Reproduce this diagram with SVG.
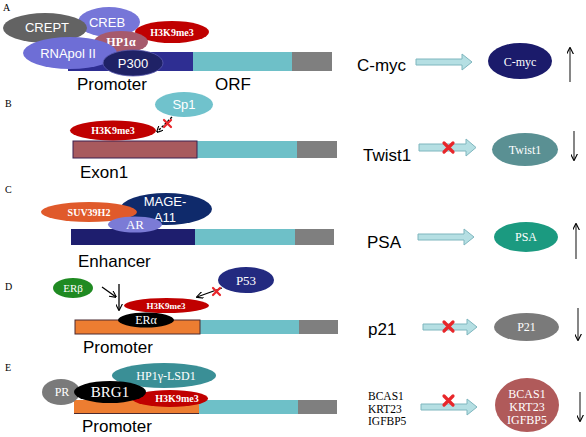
<svg xmlns="http://www.w3.org/2000/svg" width="586" height="437" viewBox="0 0 586 437">
<defs>
<style>
.lbl{font-family:"Liberation Serif",serif;font-size:10px;fill:#000}
.sans{font-family:"Liberation Sans",Arial,sans-serif;font-size:17px;fill:#000}
.ws{font-family:"Liberation Sans",Arial,sans-serif;font-size:13px;fill:#fff;text-anchor:middle}
.wr{font-family:"Liberation Serif",serif;font-size:12px;fill:#fff;text-anchor:middle}
.wb{font-family:"Liberation Serif",serif;font-size:10px;font-weight:bold;fill:#fff;text-anchor:middle}
.orf{fill:#6ec0c8}
.end{fill:#7f7f7f}
.barr{fill:#b5dfe3;stroke:#7fb6be;stroke-width:1}
.xm{stroke:#e8262a;stroke-width:3.2;stroke-linecap:round}
.ln{stroke:#000;stroke-width:1.3;fill:none}
.ud{stroke:#444;stroke-width:1.3;fill:none}
</style>
<marker id="ah" viewBox="0 0 10 10" refX="9" refY="5" markerWidth="7" markerHeight="7" orient="auto-start-reverse" markerUnits="userSpaceOnUse">
<path d="M0,0 L10,5 L0,10" fill="none" stroke="#000" stroke-width="1.6"/>
</marker>
</defs>
<rect width="586" height="437" fill="#fff"/>

<!-- panel letters -->
<text class="lbl" x="3" y="11">A</text>
<text class="lbl" x="5" y="107">B</text>
<text class="lbl" x="5" y="193">C</text>
<text class="lbl" x="5" y="290">D</text>
<text class="lbl" x="5" y="371">E</text>

<!-- gene bars -->
<g id="barA">
<rect x="68" y="52" width="125" height="19" fill="#2e2e92"/>
<rect class="orf" x="193" y="52" width="99" height="19"/>
<rect class="end" x="292" y="52" width="40" height="19"/>
</g>
<g id="barB">
<rect class="orf" x="197" y="141" width="100" height="17"/>
<rect class="end" x="297" y="141" width="40" height="17"/>
<rect x="73" y="141" width="124" height="17" fill="#a85a5e" stroke="#3a2050" stroke-width="1"/>
</g>
<g id="barC">
<rect x="71" y="229" width="124" height="16" fill="#1e1e6e"/>
<rect class="orf" x="195" y="229" width="100" height="16"/>
<rect class="end" x="295" y="229" width="39" height="16"/>
</g>
<g id="barD">
<rect class="orf" x="200" y="320" width="99" height="14"/>
<rect class="end" x="299" y="320" width="39" height="14"/>
<rect x="75" y="320" width="125" height="14" fill="#ed7d31" stroke="#4a2a30" stroke-width="1"/>
</g>
<g id="barE">
<rect class="orf" x="199" y="400" width="99" height="14"/>
<rect class="end" x="298" y="400" width="39" height="14"/>
<rect x="74" y="400" width="125" height="14" fill="#ed7d31"/>
<line x1="74" y1="413.5" x2="199" y2="413.5" stroke="#4a2a30" stroke-width="1"/>
</g>

<!-- region labels -->
<text class="sans" x="77" y="90">Promoter</text>
<text class="sans" x="215" y="90">ORF</text>
<text class="sans" x="80" y="178">Exon1</text>
<text class="sans" x="78" y="267">Enhancer</text>
<text class="sans" x="83" y="353">Promoter</text>
<text class="sans" x="82" y="432">Promoter</text>

<!-- Panel A proteins -->
<g id="CREB"><ellipse cx="109" cy="22" rx="31" ry="15" fill="#7676d8"/><text class="ws" x="107" y="27">CREB</text></g>
<g id="CREPT"><ellipse cx="45" cy="28" rx="42" ry="15" fill="#636363"/><text class="ws" x="47" y="32">CREPT</text></g>
<g id="H3K9me3A"><ellipse cx="172" cy="32" rx="37" ry="11" fill="#c00000"/><text class="wb" x="172" y="36">H3K9me3</text></g>
<g id="HP1a"><ellipse cx="121" cy="42" rx="27" ry="11" fill="#a65a6c"/><text class="wb" x="121" y="46" style="font-size:12px">HP1α</text></g>
<g id="RNApol"><ellipse cx="70" cy="53" rx="47" ry="16" fill="#6e6ed6"/><text class="ws" x="68" y="58">RNApol II</text></g>
<g id="P300"><ellipse cx="133" cy="63" rx="30" ry="13" fill="#1f2266" stroke="#5a5ab0" stroke-width="0.8"/><text class="ws" x="133" y="68">P300</text></g>

<!-- Panel B proteins -->
<g id="H3K9me3B"><ellipse cx="113" cy="130.5" rx="43" ry="10" fill="#c00000"/><text class="wb" x="113" y="134">H3K9me3</text></g>
<g id="Sp1"><ellipse cx="184" cy="104.5" rx="29" ry="12.5" fill="#70c2cc"/><text class="ws" x="184" y="109">Sp1</text></g>

<!-- Panel C proteins -->
<g id="MAGE"><ellipse cx="166" cy="209" rx="46" ry="16" fill="#0f2a6b"/><text class="ws" x="165" y="206">MAGE-</text><text class="ws" x="165" y="222">A11</text></g>
<g id="SUV39H2"><ellipse cx="89" cy="212" rx="48" ry="10" fill="#e05a2b"/><text class="wb" x="89" y="216">SUV39H2</text></g>
<g id="AR"><ellipse cx="135" cy="224.5" rx="27" ry="8" fill="#7b7bd6"/><text class="wr" x="135" y="229" style="font-size:13px">AR</text></g>

<!-- Panel D proteins -->
<g id="ERb"><ellipse cx="73" cy="288" rx="20" ry="10" fill="#1f8a22"/><text class="wr" x="73" y="292" style="font-size:11px">ERβ</text></g>
<g id="H3K9me3D"><ellipse cx="166.5" cy="305.5" rx="42.5" ry="7.5" fill="#c00000"/><text class="wb" x="166" y="309" style="font-size:9px">H3K9me3</text></g>
<g id="ERa"><ellipse cx="146" cy="320" rx="28" ry="7.5" fill="#000"/><text class="wr" x="146" y="324">ERα</text></g>
<g id="P53"><ellipse cx="246" cy="280" rx="28" ry="13" fill="#232a80"/><text class="wr" x="246" y="285" style="font-size:13px">P53</text></g>

<!-- Panel E proteins -->
<g id="HP1g"><ellipse cx="164" cy="375.5" rx="52" ry="12.5" fill="#3a8f96"/><text class="wr" x="166" y="380">HP1γ-LSD1</text></g>
<g id="H3K9me3E"><ellipse cx="170" cy="398.5" rx="38" ry="8.5" fill="#c00000"/><text class="wb" x="177" y="402">H3K9me3</text></g>
<g id="PR"><ellipse cx="61" cy="392" rx="19" ry="13" fill="#7a7a7a"/><text class="wr" x="62" y="396">PR</text></g>
<g id="BRG1"><ellipse cx="110" cy="392" rx="36" ry="11" fill="#000"/><text class="wr" x="110" y="397" style="font-size:15px">BRG1</text></g>

<!-- connectors -->
<g id="connectors">
<line class="ln" x1="172" y1="117" x2="157" y2="132" stroke-dasharray="2.5,1.5" marker-end="url(#ah)"/>
<line class="ln" x1="102" y1="287" x2="116" y2="297" marker-end="url(#ah)"/>
<line class="ln" x1="119" y1="284" x2="119" y2="310" marker-end="url(#ah)"/>
<line class="ln" x1="222" y1="288" x2="197" y2="297" marker-end="url(#ah)"/>
<!-- block arrows -->
<path class="barr" d="M416,59 H462 V54 L472,62 L462,70 V65 H416 Z"/>
<path class="barr" d="M419,144 H466 V139 L476,147.5 L466,156 V151 H419 Z"/>
<path class="barr" d="M418,234 H464 V229 L474,237 L464,245 V240 H418 Z"/>
<path class="barr" d="M423,324 H467 V319 L477,327 L467,335 V330 H423 Z"/>
<path class="barr" d="M421,404 H467 V399 L477,407 L467,415 V410 H421 Z"/>
<!-- up/down arrows -->
<line class="ud" x1="570" y1="82" x2="570" y2="48" marker-end="url(#ah)"/>
<line class="ud" x1="574" y1="131" x2="574" y2="160" marker-end="url(#ah)"/>
<line class="ud" x1="576" y1="259" x2="576" y2="224" marker-end="url(#ah)"/>
<line class="ud" x1="578" y1="308" x2="578" y2="340" marker-end="url(#ah)"/>
<line class="ud" x1="580" y1="392" x2="580" y2="421" marker-end="url(#ah)"/>
</g>

<!-- red crosses -->
<g id="crosses">
<path class="xm" d="M164,120 L171,127 M171,120 L164,127" style="stroke-width:2.2"/>
<path class="xm" d="M213,288 L220,295 M220,288 L213,295" style="stroke-width:2.2"/>
<path class="xm" d="M444,143 L453,152 M453,143 L444,152"/>
<path class="xm" d="M444,322 L453,331 M453,322 L444,331"/>
<path class="xm" d="M444,396 L453,405 M453,396 L444,405"/>
</g>

<!-- right side gene names -->
<text class="sans" x="357" y="71">C-myc</text>
<text class="sans" x="363" y="161">Twist1</text>
<text class="sans" x="367" y="248">PSA</text>
<text class="sans" x="368" y="335">p21</text>
<g style="font-family:'Liberation Serif',serif;font-size:11.5px;fill:#000">
<text x="368" y="400">BCAS1</text>
<text x="368" y="412.5">KRT23</text>
<text x="368" y="425">IGFBP5</text>
</g>

<!-- products -->
<g id="Cmyc"><ellipse cx="520" cy="61" rx="32" ry="18" fill="#1b1b6b"/><text class="wr" x="520" y="66">C-myc</text></g>
<g id="Twist1"><ellipse cx="525" cy="149.5" rx="33" ry="16.5" fill="#5a9093"/><text class="wr" x="525" y="154">Twist1</text></g>
<g id="PSA"><ellipse cx="526" cy="237" rx="32" ry="15" fill="#1b9a80"/><text class="wr" x="526" y="241">PSA</text></g>
<g id="P21"><ellipse cx="526.5" cy="327" rx="32.5" ry="14" fill="#7a7a7a"/><text class="wr" x="526.5" y="331">P21</text></g>
<g id="BCAS"><ellipse cx="527" cy="405" rx="32" ry="27" fill="#b05a5a"/>
<text class="wr" x="527" y="397.5">BCAS1</text>
<text class="wr" x="527" y="410.5">KRT23</text>
<text class="wr" x="527" y="423.5">IGFBP5</text></g>
</svg>
